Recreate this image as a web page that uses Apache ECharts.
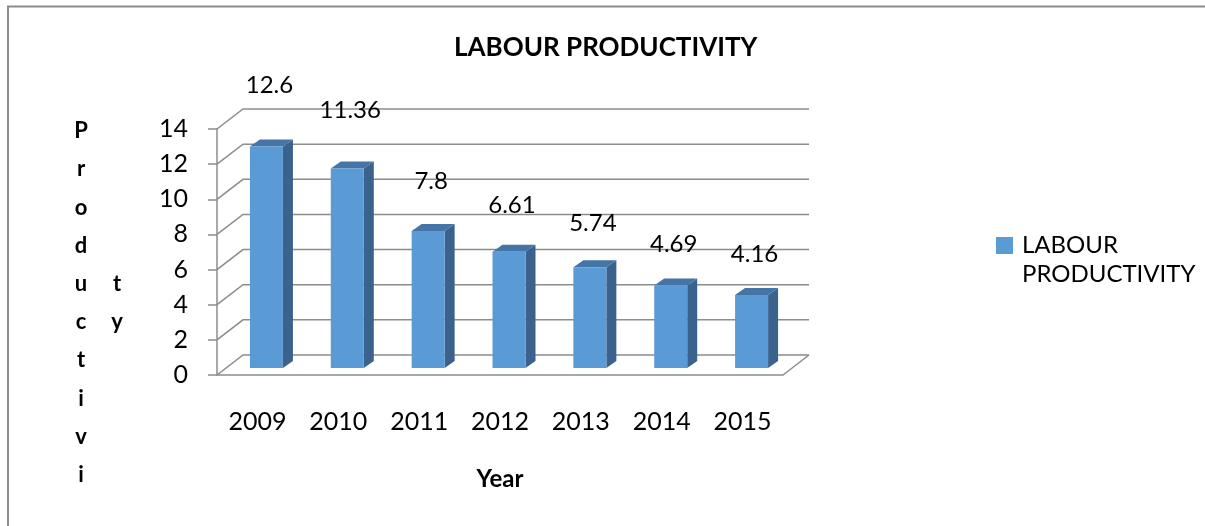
<!DOCTYPE html>
<html><head><meta charset="utf-8">
<script src="https://cdn.jsdelivr.net/npm/echarts@6/dist/echarts.min.js"></script>
<style>html,body{margin:0;padding:0;background:#fff}#c{width:1205px;height:526px}</style>
</head><body><div id="c"></div>
<script>
const categories = ['2009', '2010', '2011', '2012', '2013', '2014', '2015'];
const productivity = [12.6, 11.36, 7.8, 6.61, 5.74, 4.69, 4.16];
const yTicks = [0, 2, 4, 6, 8, 10, 12, 14];
const seriesName = 'LABOUR PRODUCTIVITY';
const legendLines = ['LABOUR', 'PRODUCTIVITY'];
const titleText = 'LABOUR PRODUCTIVITY';
const xTitle = 'Year';
const yTitle = 'Productivity';

const FONT = 'Lato, "Open Sans", sans-serif';
const GRAY = '#8c8c8c';
const FRONT = '#5B9BD5';
const SIDE = '#3A628C';
const TOP = '#4475A6';
const DEPTH = [26, -20];
const BAR_SHIFT = [9, -7];
const BAR_DEPTH = [10, -7];
const BAR_W = 33;

const chart = echarts.init(document.getElementById('c'), null, {renderer: 'canvas'});

const col1 = yTitle.slice(0, 10).split('').join('\n');
const col2 = yTitle.slice(10).split('').join('\n');

chart.setOption({
  animation: false,
  backgroundColor: '#fff',
  title: {
    text: titleText, left: 454, top: 35, padding: 0,
    textStyle: {fontFamily: FONT, fontWeight: 'bold', fontSize: 26, color: '#000'}
  },
  legend: {
    left: 996, top: 202, padding: 0, orient: 'vertical', icon: 'rect', itemWidth: 17, itemHeight: 17,
    data: [{name: seriesName, itemStyle: {color: FRONT}}],
    formatter: () => '\u00a0\n' + legendLines.join('\n'),
    textStyle: {fontFamily: FONT, fontSize: 24, color: '#000', lineHeight: 29, padding: [0, 0, 0, 4]}
  },
  grid: {left: 217, right: 422, top: 129, bottom: 151},
  xAxis: {
    type: 'category', data: categories,
    name: xTitle, nameLocation: 'middle', nameGap: 92,
    nameTextStyle: {fontFamily: FONT, fontWeight: 'bold', fontSize: 24, color: '#000'},
    axisLine: {lineStyle: {color: GRAY, width: 1.5}},
    axisTick: {length: 10, lineStyle: {color: GRAY, width: 1.5}},
    axisLabel: {margin: 34, fontFamily: FONT, fontSize: 25, color: '#000'},
    splitLine: {show: false}
  },
  yAxis: {
    type: 'value', min: 0, max: 14, interval: 2,
    axisLine: {show: true, lineStyle: {color: GRAY, width: 1.5}},
    axisTick: {show: true, length: 9, lineStyle: {color: GRAY, width: 1.5}},
    axisLabel: {margin: 29, fontFamily: FONT, fontSize: 25, color: '#000', padding: [5, 0, 0, 0]},
    splitLine: {show: false}
  },
  graphic: [
    {type: 'polyline', shape: {points: [[8, 600], [8, 6.5], [1300, 6.5]]}, style: {fill: null, stroke: GRAY, lineWidth: 2}, z: -10, silent: true},
    {type: 'text', x: 81, y: 112, style: {text: col1, textAlign: 'center', textVerticalAlign: 'top', fontFamily: FONT, fontWeight: 'bold', fontSize: 22, lineHeight: 38.2, fill: '#000'}},
    {type: 'text', x: 117, y: 265, style: {text: col2, textAlign: 'center', textVerticalAlign: 'top', fontFamily: FONT, fontWeight: 'bold', fontSize: 22, lineHeight: 38.2, fill: '#000'}}
  ],
  series: [
    {
      type: 'custom', name: 'walls', silent: true, z: 1,
      data: [[0, 0]], encode: {x: 0, y: 1},
      renderItem: (params, api) => {
        const cs = params.coordSys;
        const x0 = cs.x, x1 = cs.x + cs.width;
        const children = [];
        yTicks.forEach(v => {
          const y = api.coord([0, v])[1];
          children.push({type: 'polyline', shape: {points: [[x0, y], [x0 + DEPTH[0], y + DEPTH[1]], [x1 + DEPTH[0], y + DEPTH[1]]]},
            style: {stroke: GRAY, lineWidth: 1.5, fill: null}});
        });
        const y0 = api.coord([0, 0])[1];
        children.push({type: 'line', shape: {x1: x1 + DEPTH[0], y1: y0 + DEPTH[1], x2: x1, y2: y0}, style: {stroke: GRAY, lineWidth: 1.5}});
        return {type: 'group', children};
      }
    },
    {
      type: 'custom', name: seriesName, z: 2,
      itemStyle: {color: FRONT},
      data: productivity.map((v, i) => [i, v]), encode: {x: 0, y: 1},
      renderItem: (params, api) => {
        const i = api.value(0), v = api.value(1);
        const top = api.coord([i, v]);
        const base = api.coord([i, 0]);
        const cx = top[0] + BAR_SHIFT[0];
        const yt = top[1] + BAR_SHIFT[1], yb = base[1] + BAR_SHIFT[1];
        const xl = cx - BAR_W / 2, xr = cx + BAR_W / 2;
        const dx = BAR_DEPTH[0], dy = BAR_DEPTH[1];
        return {type: 'group', children: [
          {type: 'polygon', shape: {points: [[xr, yt], [xr + dx, yt + dy], [xr + dx, yb + dy], [xr, yb]]}, style: {fill: SIDE}},
          {type: 'polygon', shape: {points: [[xl, yt], [xr, yt], [xr + dx, yt + dy], [xl + dx, yt + dy]]}, style: {fill: TOP}},
          {type: 'rect', shape: {x: xl, y: yt, width: BAR_W, height: yb - yt}, style: {fill: FRONT}},
          {type: 'text', x: cx + 3, y: top[1] - 37 - 2.5 * v,
            style: {text: String(v), textAlign: 'center', textVerticalAlign: 'middle', align: 'center', verticalAlign: 'middle',
              fontFamily: FONT, fontSize: 24, fill: '#000'}}
        ]};
      }
    }
  ]
});
</script>
</body></html>
